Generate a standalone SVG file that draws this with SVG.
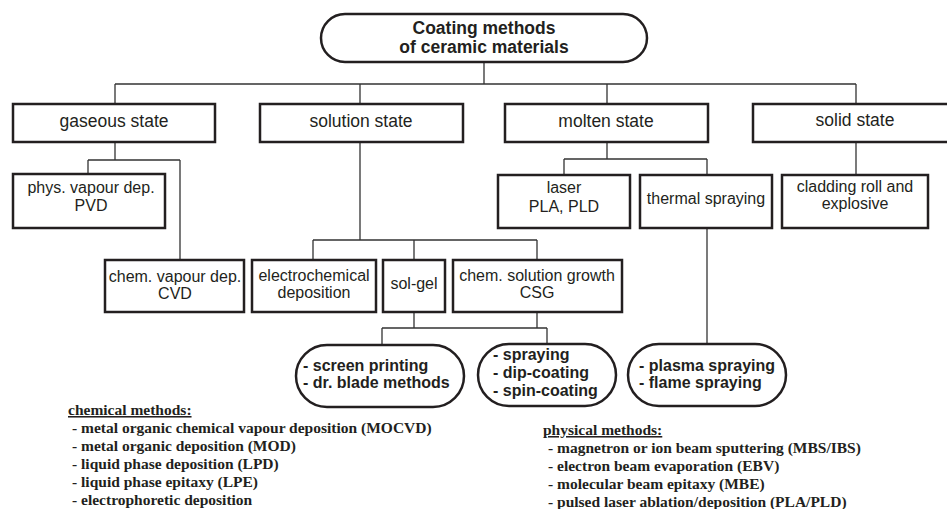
<svg xmlns="http://www.w3.org/2000/svg" width="947" height="509" viewBox="0 0 947 509">
<style>
.box{fill:#fff;stroke:#231f20;stroke-width:2.5}
.c{fill:none;stroke:#333;stroke-width:1.3}
.t{font-family:"Liberation Sans",Arial,sans-serif;font-size:17.5px;fill:#231f20;text-anchor:middle}
.s{font-family:"Liberation Sans",Arial,sans-serif;font-size:16px;fill:#231f20;text-anchor:middle}
.b{font-family:"Liberation Sans",Arial,sans-serif;font-size:16px;font-weight:bold;fill:#231f20}
.h{font-family:"Liberation Sans",Arial,sans-serif;font-size:17.5px;font-weight:bold;fill:#231f20;text-anchor:middle}
.l{font-family:"Liberation Serif","Times New Roman",serif;font-size:15.5px;font-weight:bold;fill:#231f20}
</style>
<rect width="947" height="509" fill="#fff"/>
<g id="connectors">
<path class="c" d="M484 63V84M115 84H856M115 84V104M360 84V104M607 84V104M856 84V104"/>
<path class="c" d="M115 142V160M88 160H180M88 160V174M180 160V260"/>
<path class="c" d="M360 142V240M313 240H537M313 240V260M414 240V260M537 240V260"/>
<path class="c" d="M607 142V159M564 159H707M564 159V175M707 159V175"/>
<path class="c" d="M856 142V175"/>
<path class="c" d="M707 228V344"/>
<path class="c" d="M414 312V328M537 312V328M382 328H547M382 328V345M547 328V344"/>
</g>
<g id="title">
<rect class="box" x="321" y="14" width="326" height="48" rx="24"/>
<text class="h" x="484" y="34">Coating methods</text>
<text class="h" x="484" y="53">of ceramic materials</text>
</g>
<g id="gaseous">
<rect class="box" x="13" y="104" width="202" height="38"/>
<text class="t" x="114" y="127">gaseous state</text>
</g>
<g id="solution">
<rect class="box" x="260" y="104" width="203" height="38"/>
<text class="t" x="361" y="127">solution state</text>
</g>
<g id="molten">
<rect class="box" x="505" y="104" width="203" height="38"/>
<text class="t" x="606" y="127">molten state</text>
</g>
<g id="solid">
<rect class="box" x="753" y="104" width="200" height="38"/>
<text class="t" x="855" y="126">solid state</text>
</g>
<g id="pvd">
<rect class="box" x="13" y="174" width="152" height="54"/>
<text class="s" x="91" y="193">phys. vapour dep.</text>
<text class="s" x="91" y="211">PVD</text>
</g>
<g id="laser">
<rect class="box" x="498" y="175" width="132" height="53"/>
<text class="s" x="564" y="193">laser</text>
<text class="s" x="564" y="212">PLA, PLD</text>
</g>
<g id="thermal">
<rect class="box" x="640" y="175" width="132" height="53"/>
<text class="s" x="706" y="204">thermal spraying</text>
</g>
<g id="cladding">
<rect class="box" x="782" y="175" width="146" height="53"/>
<text class="s" x="855" y="192">cladding roll and</text>
<text class="s" x="855" y="209">explosive</text>
</g>
<g id="cvd">
<rect class="box" x="105" y="260" width="139" height="52"/>
<text class="s" x="175" y="282">chem. vapour dep.</text>
<text class="s" x="175" y="299">CVD</text>
</g>
<g id="electrochemical">
<rect class="box" x="252" y="260" width="124" height="52"/>
<text class="s" x="314" y="281">electrochemical</text>
<text class="s" x="314" y="298">deposition</text>
</g>
<g id="solgel">
<rect class="box" x="383" y="260" width="62" height="52"/>
<text class="s" x="414" y="289">sol-gel</text>
</g>
<g id="csg">
<rect class="box" x="453" y="260" width="169" height="52"/>
<text class="s" x="537" y="281">chem. solution growth</text>
<text class="s" x="537" y="298">CSG</text>
</g>
<g id="printing">
<rect class="box" x="296" y="345" width="168" height="62" rx="31"/>
<text class="b" x="303" y="371">- screen printing</text>
<text class="b" x="303" y="388">- dr. blade methods</text>
</g>
<g id="coating">
<rect class="box" x="478" y="344" width="138" height="62" rx="31"/>
<text class="b" x="493" y="360">- spraying</text>
<text class="b" x="493" y="378">- dip-coating</text>
<text class="b" x="493" y="396">- spin-coating</text>
</g>
<g id="plasma">
<rect class="box" x="628" y="344" width="158" height="62" rx="31"/>
<text class="b" x="639" y="371">- plasma spraying</text>
<text class="b" x="639" y="388">- flame spraying</text>
</g>
<g id="chemical-list">
<text class="l" x="68" y="415" text-decoration="underline">chemical methods:</text>
<text class="l" x="72" y="433">- metal organic chemical vapour deposition (MOCVD)</text>
<text class="l" x="72" y="451">- metal organic deposition (MOD)</text>
<text class="l" x="72" y="469">- liquid phase deposition (LPD)</text>
<text class="l" x="72" y="487">- liquid phase epitaxy (LPE)</text>
<text class="l" x="72" y="505">- electrophoretic deposition</text>
</g>
<g id="physical-list">
<text class="l" x="543" y="435" text-decoration="underline">physical methods:</text>
<text class="l" x="548" y="453">- magnetron or ion beam sputtering (MBS/IBS)</text>
<text class="l" x="548" y="471">- electron beam evaporation (EBV)</text>
<text class="l" x="548" y="489">- molecular beam epitaxy (MBE)</text>
<text class="l" x="548" y="507">- pulsed laser ablation/deposition (PLA/PLD)</text>
</g>
</svg>
